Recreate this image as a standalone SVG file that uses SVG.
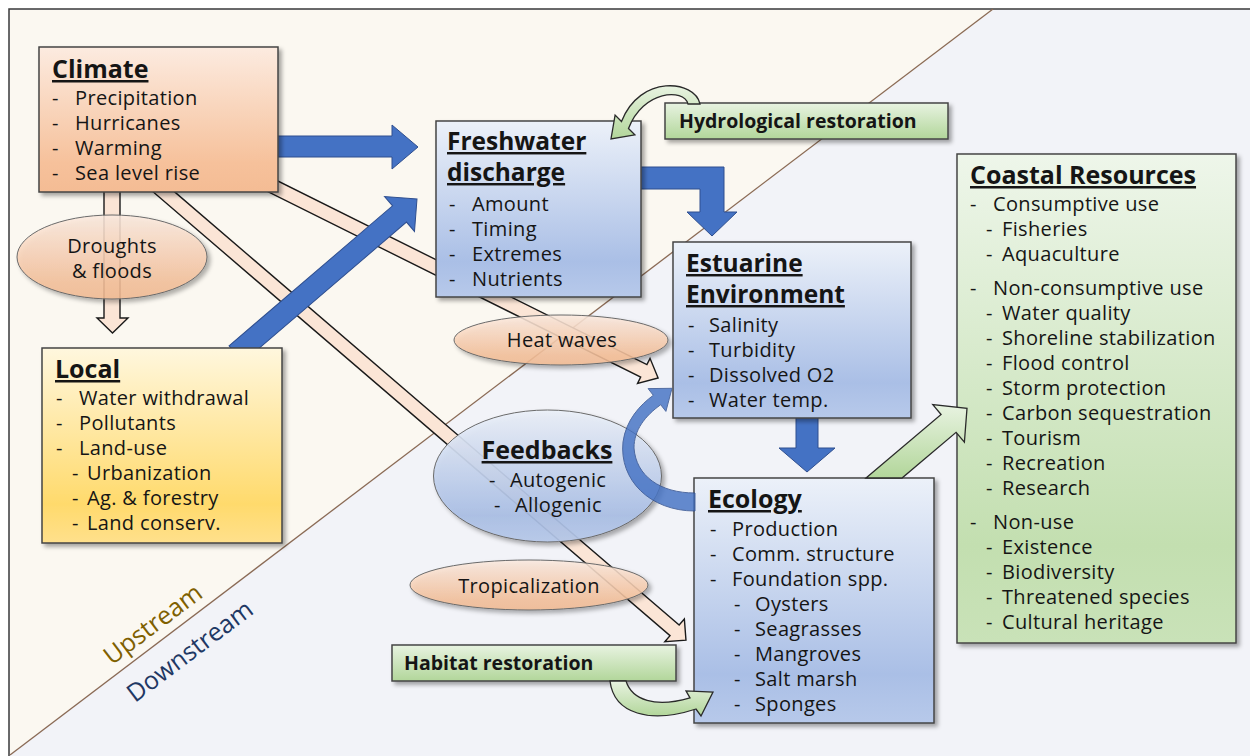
<svg xmlns="http://www.w3.org/2000/svg" width="1250" height="756" viewBox="0 0 1250 756">
<defs>
<style>
text{font-family:"Open Sans","Noto Sans","DejaVu Sans",sans-serif;fill:#151515}
.t{font-size:25px;font-weight:bold;text-decoration:underline}
.t2{font-size:24.5px;font-weight:bold;text-decoration:underline}
.i{font-size:20px;letter-spacing:0.35px}
.g{font-size:19.5px;font-weight:bold}
.box{stroke:#454545;stroke-width:1.5}
.ell{stroke:#6a6a6a;stroke-width:1}
.blue{fill:#4472C4;stroke:#2F4F8F;stroke-width:1}
.pale{fill:#FBE5D6;stroke:#1a1a1a;stroke-width:1.4}
.grn{fill:url(#gGreenA);stroke:#2a2a2a;stroke-width:1.3}
</style>
<linearGradient id="gPeach" x1="0" y1="0" x2="0" y2="1"><stop offset="0" stop-color="#FCEBE0"/><stop offset="0.8" stop-color="#F6C19B"/><stop offset="1" stop-color="#F4BC94"/></linearGradient>
<linearGradient id="gBlue" x1="0" y1="0" x2="0" y2="1"><stop offset="0" stop-color="#ECF1F9"/><stop offset="0.8" stop-color="#AABFE6"/><stop offset="1" stop-color="#B7C9EA"/></linearGradient>
<linearGradient id="gGold" x1="0" y1="0" x2="0" y2="1"><stop offset="0" stop-color="#FFF7DE"/><stop offset="0.8" stop-color="#FFDA6C"/><stop offset="1" stop-color="#FFE08C"/></linearGradient>
<linearGradient id="gGreen" x1="0" y1="0" x2="0" y2="1"><stop offset="0" stop-color="#EEF6EA"/><stop offset="0.8" stop-color="#C3DFB0"/><stop offset="1" stop-color="#C9E2B8"/></linearGradient>
<linearGradient id="gGreenA" x1="0" y1="0" x2="0" y2="1"><stop offset="0" stop-color="#E8F3E1"/><stop offset="1" stop-color="#B2D69A"/></linearGradient>
<filter id="sh" x="-10%" y="-10%" width="125%" height="130%"><feDropShadow dx="3" dy="3" stdDeviation="2.2" flood-color="#000" flood-opacity="0.35"/></filter>
</defs>

<!-- background -->
<rect x="0" y="0" width="1250" height="756" fill="#ffffff"/>
<rect x="9" y="9" width="1300" height="800" fill="#F2F3F8" stroke="#3a3a3a" stroke-width="1.5"/>
<polygon points="10,10 993,10 10,755" fill="#FBF8F1"/>
<line x1="10" y1="755" x2="993" y2="9" stroke="#8a6a55" stroke-width="1.3"/>
<text x="158" y="631" transform="rotate(-37 158 631)" text-anchor="middle" style="font-size:25px;fill:#7F6000">Upstream</text>
<text x="195" y="658" transform="rotate(-37 195 658)" text-anchor="middle" style="font-size:25px;fill:#1F3864">Downstream</text>

<g id="connectors-under">
<polygon class="pale" points="0,-7 451,-7 451,-14 467,0 451,14 451,7 0,7" transform="translate(240,170) rotate(26.45)"/>
<polygon class="pale" points="0,-7 688,-7 688,-15 703,0 688,15 688,7 0,7" transform="translate(152.6,182.2) rotate(40.65)"/>
<polygon class="pale" points="104,185 120,185 120,318 128,318 112.5,333 97,318 104,318"/>
<polygon class="blue" points="270,136 392,136 392,125 418,147 392,169 392,157 270,157"/>
<polygon class="blue" points="0,-10.7 215.3,-10.7 215.3,-23 238.3,0 215.3,23 215.3,10.7 0,10.7" transform="translate(236,354) rotate(-40.58)"/>
<polygon class="blue" points="630,167 724,167 724,212 737,212 712,236 687,212 700,212 700,189 630,189"/>
<polygon class="blue" points="796,410 818,410 818,448 835,448 807,472 779,448 796,448"/>
</g>

<g id="climate">
<rect class="box" x="39" y="47" width="239" height="145" fill="url(#gPeach)" filter="url(#sh)"/>
<text class="t" x="52" y="78">Climate</text>
<text class="i" x="52" y="105">-</text><text class="i" x="75" y="105">Precipitation</text>
<text class="i" x="52" y="130">-</text><text class="i" x="75" y="130">Hurricanes</text>
<text class="i" x="52" y="155">-</text><text class="i" x="75" y="155">Warming</text>
<text class="i" x="52" y="180">-</text><text class="i" x="75" y="180">Sea level rise</text>
</g>

<g id="droughts">
<ellipse class="ell" cx="112" cy="257" rx="95" ry="42" fill="url(#gPeach)" fill-opacity="0.85" filter="url(#sh)"/>
<text class="i" x="112" y="253" text-anchor="middle">Droughts</text>
<text class="i" x="112" y="278" text-anchor="middle">&amp; floods</text>
</g>

<g id="local">
<rect class="box" x="42" y="348" width="240" height="195" fill="url(#gGold)" filter="url(#sh)"/>
<text class="t" x="55" y="378">Local</text>
<text class="i" x="56" y="405">-</text><text class="i" x="79" y="405">Water withdrawal</text>
<text class="i" x="56" y="430">-</text><text class="i" x="79" y="430">Pollutants</text>
<text class="i" x="56" y="455">-</text><text class="i" x="79" y="455">Land-use</text>
<text class="i" x="72" y="480">-</text><text class="i" x="87" y="480">Urbanization</text>
<text class="i" x="72" y="505">-</text><text class="i" x="87" y="505">Ag. &amp; forestry</text>
<text class="i" x="72" y="530">-</text><text class="i" x="87" y="530">Land conserv.</text>
</g>

<g id="freshwater">
<rect class="box" x="436" y="121" width="205" height="176" fill="url(#gBlue)" filter="url(#sh)"/>
<text class="t2"><tspan x="447" y="150">Freshwater</tspan><tspan x="447" y="181">discharge</tspan></text>
<text class="i" x="449" y="211">-</text><text class="i" x="472" y="211">Amount</text>
<text class="i" x="449" y="236">-</text><text class="i" x="472" y="236">Timing</text>
<text class="i" x="449" y="261">-</text><text class="i" x="472" y="261">Extremes</text>
<text class="i" x="449" y="286">-</text><text class="i" x="472" y="286">Nutrients</text>
</g>

<g id="hydrological-restoration">
<rect class="box" x="665" y="103" width="283" height="36" fill="url(#gGreenA)" filter="url(#sh)"/>
<text class="g" x="679" y="128">Hydrological restoration</text>
</g>

<g id="estuarine">
<rect class="box" x="673" y="242" width="238" height="176" fill="url(#gBlue)" filter="url(#sh)"/>
<text class="t2"><tspan x="686" y="272">Estuarine</tspan><tspan x="686" y="303">Environment</tspan></text>
<text class="i" x="688" y="332">-</text><text class="i" x="709" y="332">Salinity</text>
<text class="i" x="688" y="357">-</text><text class="i" x="709" y="357">Turbidity</text>
<text class="i" x="688" y="382">-</text><text class="i" x="709" y="382">Dissolved O2</text>
<text class="i" x="688" y="407">-</text><text class="i" x="709" y="407">Water temp.</text>
</g>

<g id="heat-waves">
<ellipse class="ell" cx="561" cy="340" rx="107" ry="25" fill="url(#gPeach)" fill-opacity="0.85" filter="url(#sh)"/>
<text class="i" x="562" y="347" text-anchor="middle">Heat waves</text>
</g>

<g id="feedbacks">
<ellipse class="ell" cx="547.5" cy="476" rx="114" ry="66" fill="url(#gBlue)" fill-opacity="0.9" filter="url(#sh)"/>
<text class="t" x="547" y="459" text-anchor="middle">Feedbacks</text>
<text class="i" x="489" y="487">-</text><text class="i" x="510" y="487">Autogenic</text>
<text class="i" x="494" y="512">-</text><text class="i" x="515" y="512">Allogenic</text>
</g>

<g id="tropicalization">
<ellipse class="ell" cx="529" cy="585" rx="119" ry="25" fill="url(#gPeach)" fill-opacity="0.85" filter="url(#sh)"/>
<text class="i" x="529" y="593" text-anchor="middle">Tropicalization</text>
</g>

<g id="habitat-restoration">
<rect class="box" x="392" y="645" width="284" height="36" fill="url(#gGreenA)" filter="url(#sh)"/>
<text class="g" x="404" y="670">Habitat restoration</text>
</g>

<g id="ecology">
<rect class="box" x="694" y="478" width="240" height="245" fill="url(#gBlue)" filter="url(#sh)"/>
<text class="t" x="708" y="508">Ecology</text>
<text class="i" x="710" y="536">-</text><text class="i" x="732" y="536">Production</text>
<text class="i" x="710" y="561">-</text><text class="i" x="732" y="561">Comm. structure</text>
<text class="i" x="710" y="586">-</text><text class="i" x="732" y="586">Foundation spp.</text>
<text class="i" x="734" y="611">-</text><text class="i" x="755" y="611">Oysters</text>
<text class="i" x="734" y="636">-</text><text class="i" x="755" y="636">Seagrasses</text>
<text class="i" x="734" y="661">-</text><text class="i" x="755" y="661">Mangroves</text>
<text class="i" x="734" y="686">-</text><text class="i" x="755" y="686">Salt marsh</text>
<text class="i" x="734" y="711">-</text><text class="i" x="755" y="711">Sponges</text>
</g>

<g id="coastal-resources">
<rect class="box" x="957" y="154" width="279" height="489" fill="url(#gGreen)" filter="url(#sh)"/>
<text class="t" x="970" y="184">Coastal Resources</text>
<text class="i" x="970" y="211">-</text><text class="i" x="993" y="211">Consumptive use</text>
<text class="i" x="986" y="236">-</text><text class="i" x="1002" y="236">Fisheries</text>
<text class="i" x="986" y="261">-</text><text class="i" x="1002" y="261">Aquaculture</text>
<text class="i" x="970" y="295">-</text><text class="i" x="993" y="295">Non-consumptive use</text>
<text class="i" x="986" y="320">-</text><text class="i" x="1002" y="320">Water quality</text>
<text class="i" x="986" y="345">-</text><text class="i" x="1002" y="345">Shoreline stabilization</text>
<text class="i" x="986" y="370">-</text><text class="i" x="1002" y="370">Flood control</text>
<text class="i" x="986" y="395">-</text><text class="i" x="1002" y="395">Storm protection</text>
<text class="i" x="986" y="420">-</text><text class="i" x="1002" y="420">Carbon sequestration</text>
<text class="i" x="986" y="445">-</text><text class="i" x="1002" y="445">Tourism</text>
<text class="i" x="986" y="470">-</text><text class="i" x="1002" y="470">Recreation</text>
<text class="i" x="986" y="495">-</text><text class="i" x="1002" y="495">Research</text>
<text class="i" x="970" y="529">-</text><text class="i" x="993" y="529">Non-use</text>
<text class="i" x="986" y="554">-</text><text class="i" x="1002" y="554">Existence</text>
<text class="i" x="986" y="579">-</text><text class="i" x="1002" y="579">Biodiversity</text>
<text class="i" x="986" y="604">-</text><text class="i" x="1002" y="604">Threatened species</text>
<text class="i" x="986" y="629">-</text><text class="i" x="1002" y="629">Cultural heritage</text>
</g>

<g id="connectors-over">
<path class="blue" opacity="0.82" d="M695,511 C650,511 619,480 623,442 C626,420 640,405 653.3,395.3 L648.1,388.6 L672,388.3 L665.9,411.4 L660.7,404.7 C645,416 634,430 634,448 C636,476 660,493 695,493 Z"/>
<path class="grn" d="M700,104 C695,80 640,74 621.5,121.5 L615.1,115.1 L611,139 L634.9,134.9 L628.5,128.5 C643,90 684,88 688,104 Z"/>
<path class="grn" d="M610,681 C614,714 650,724 696,709 L701,716 L713,692 L686,690.9 L690,697.8 C655,708 632,700 626,681 Z"/>
<polygon class="grn" points="866,478 941.1,414.5 932.8,404.6 967,408.3 964.4,442.2 956.1,432.3 902,478"/>
</g>
</svg>
